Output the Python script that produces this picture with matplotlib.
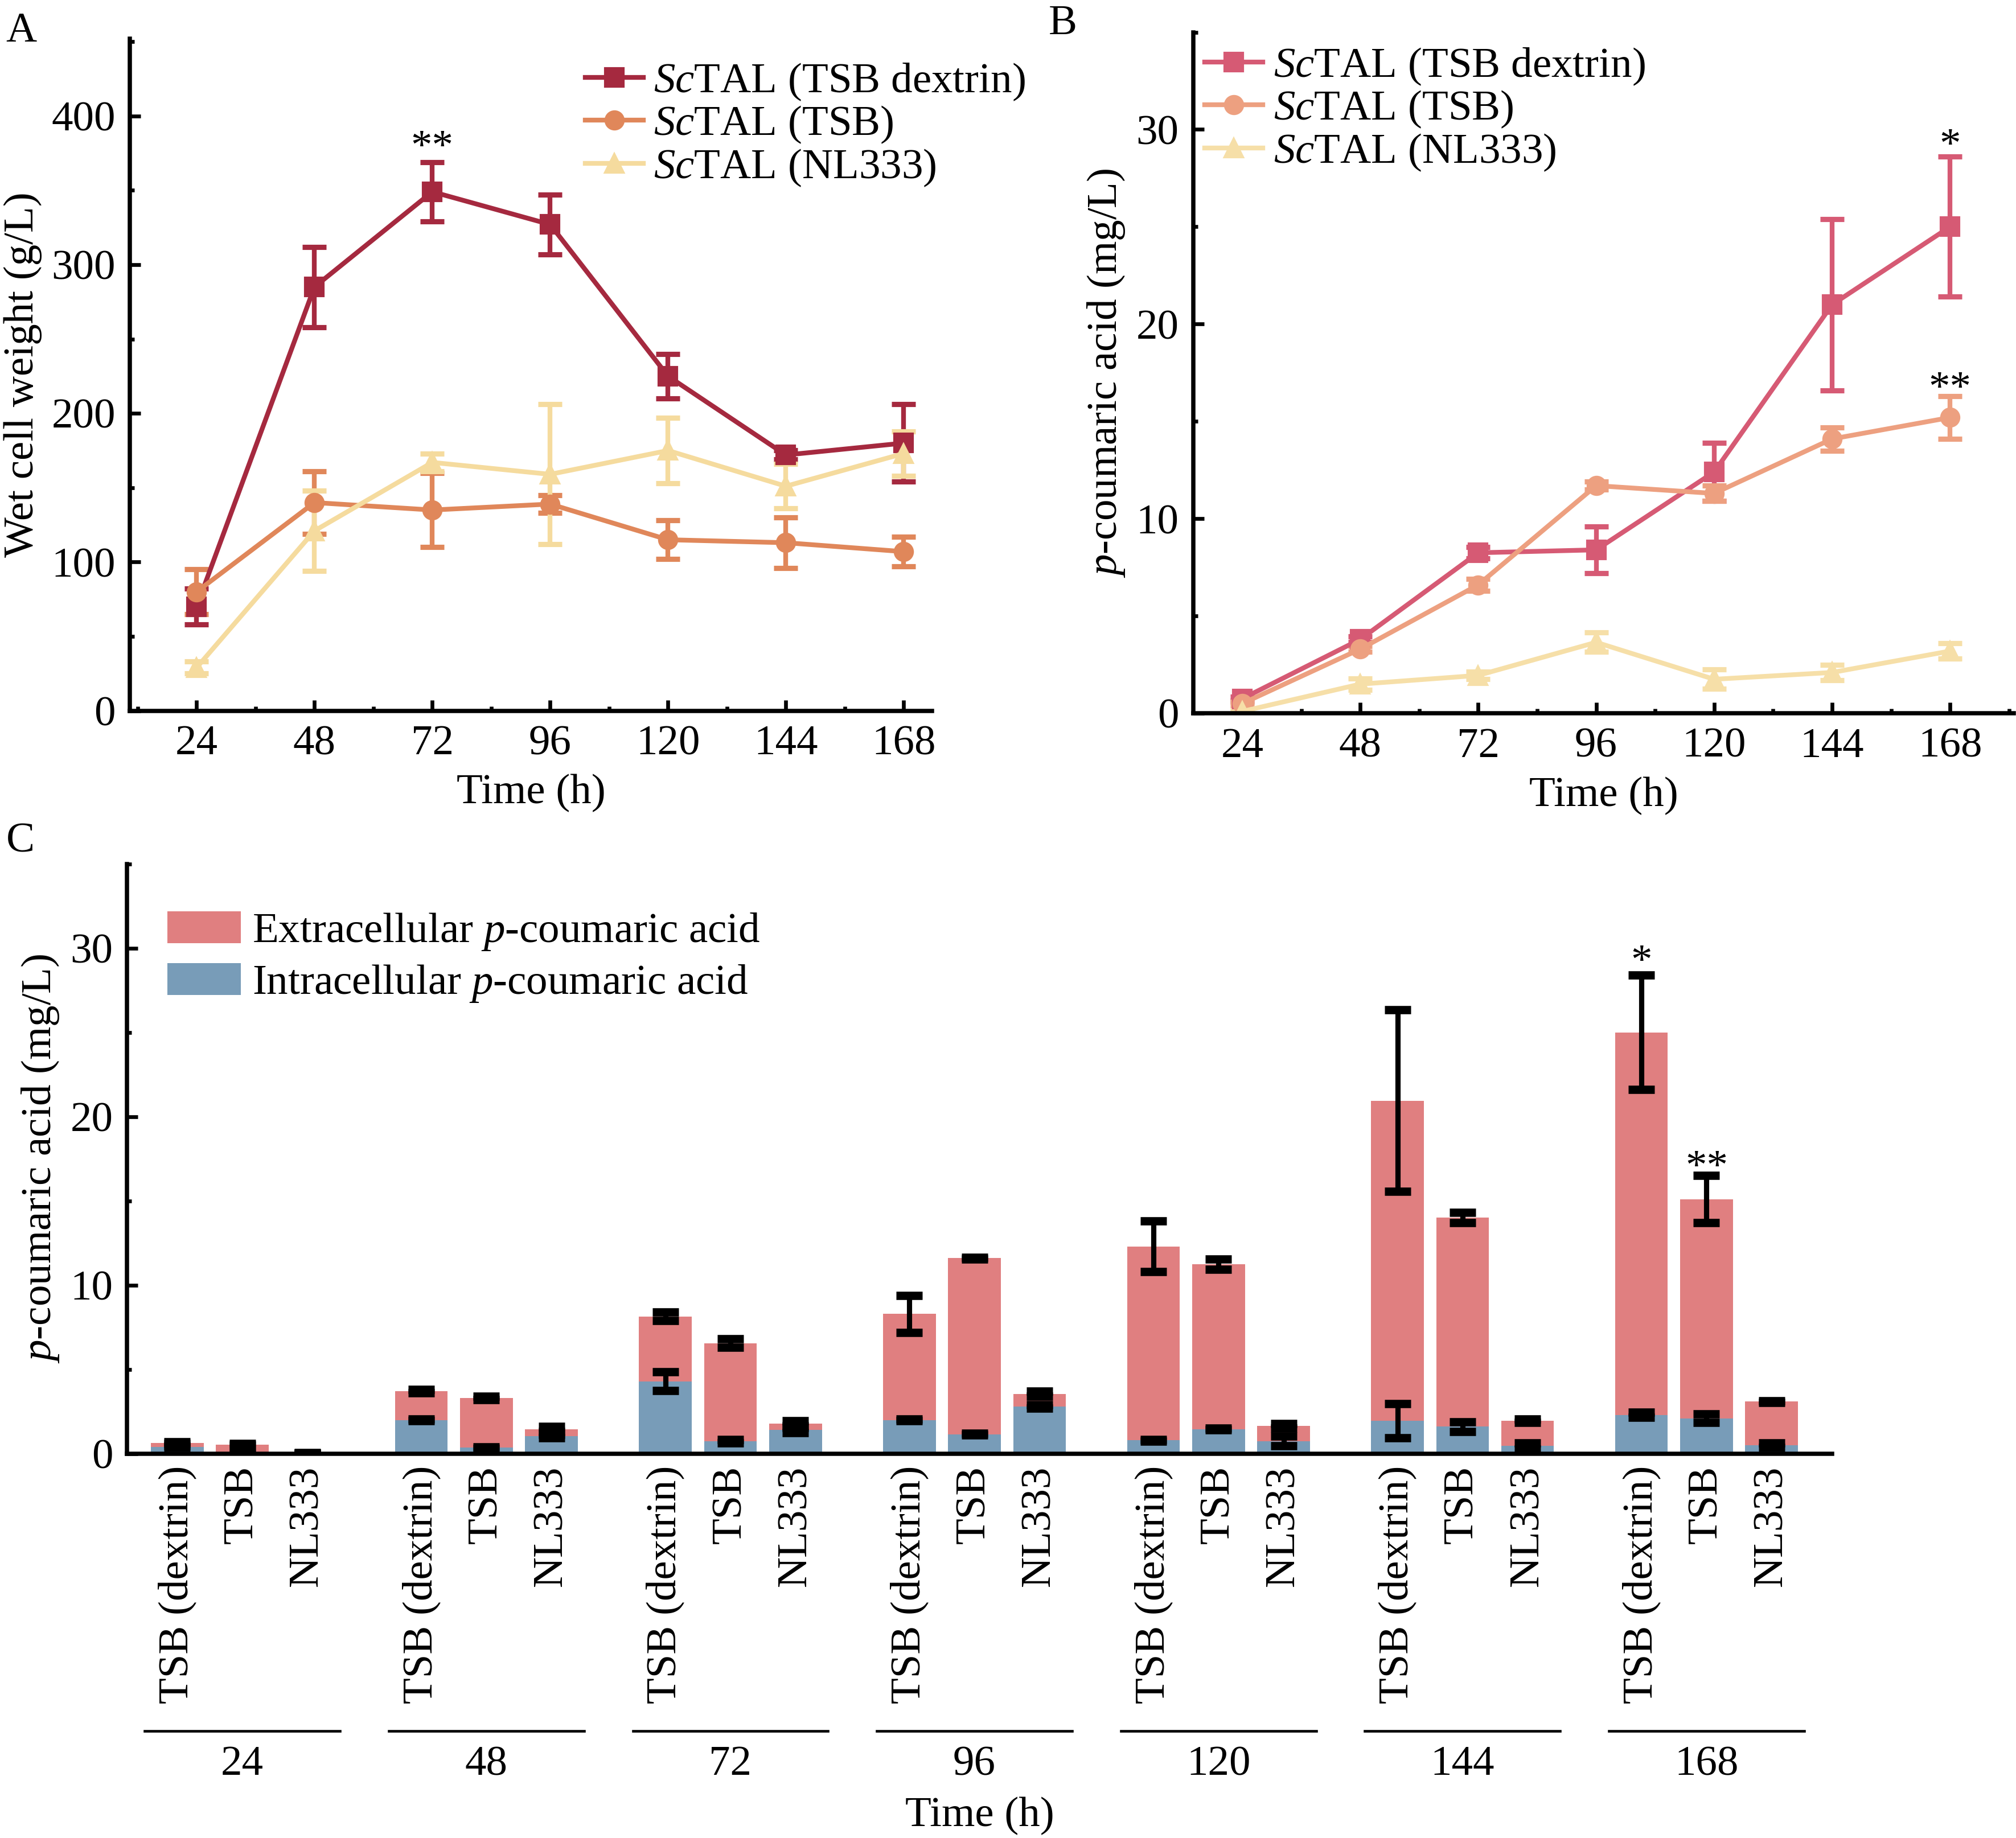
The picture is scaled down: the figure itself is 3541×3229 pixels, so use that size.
import numpy as np
import matplotlib.pyplot as plt
from matplotlib.ticker import MultipleLocator
from matplotlib.lines import Line2D

plt.rcParams['font.family'] = ['Liberation Serif', 'DejaVu Serif']
plt.rcParams['font.size'] = 18
plt.rcParams['mathtext.fontset'] = 'custom'
plt.rcParams['mathtext.rm'] = 'Liberation Serif'
plt.rcParams['mathtext.it'] = 'Liberation Serif:italic'

# ---- data ----
times = [24, 48, 72, 96, 120, 144, 168]
series = ['$\\it{Sc}$TAL (TSB dextrin)', '$\\it{Sc}$TAL (TSB)', '$\\it{Sc}$TAL (NL333)']

# panel A: wet cell weight (g/L)
wcw_dex = [70, 285, 349, 327, 225, 172, 180]
wcw_dex_err = [12, 27, 20, 20, 15, 3, 26]
wcw_tsb = [80, 140, 135, 139, 115, 113, 107]
wcw_tsb_err = [15, 21, 25, 6, 13, 17, 10]
wcw_nl = [29, 121, 167, 159, 175, 151, 173]
wcw_nl_err = [4, 27, 6, 47, 22, 15, 15]

# panel B: p-coumaric acid (mg/L)
pca_dex = [0.75, 3.8, 8.25, 8.4, 12.4, 21.0, 25.0]
pca_dex_err = [0.1, 0.15, 0.3, 1.2, 1.5, 4.4, 3.6]
pca_tsb = [0.5, 3.3, 6.6, 11.7, 11.3, 14.1, 15.2]
pca_tsb_err = [0.1, 0.15, 0.3, 0.2, 0.4, 0.6, 1.1]
pca_nl = [0.1, 1.5, 1.95, 3.65, 1.75, 2.1, 3.2]
pca_nl_err = [0.05, 0.3, 0.2, 0.5, 0.5, 0.4, 0.4]

# panel C: total and intracellular p-coumaric acid (mg/L)
media = ['TSB (dextrin)', 'TSB', 'NL333']
tot_dex = [0.65, 3.7, 8.15, 8.3, 12.3, 20.95, 25.0]
tot_dex_err = [0.05, 0.1, 0.25, 1.1, 1.5, 5.4, 3.4]
tot_tsb = [0.55, 3.3, 6.55, 11.6, 11.25, 14.0, 15.1]
tot_tsb_err = [0.05, 0.1, 0.25, 0.05, 0.3, 0.3, 1.4]
tot_nl = [0.05, 1.45, 1.8, 3.55, 1.65, 1.95, 3.1]
tot_nl_err = [0.02, 0.15, 0.15, 0.15, 0.15, 0.1, 0.05]
in_dex = [0.4, 2.0, 4.3, 2.0, 0.8, 1.95, 2.3]
in_dex_err = [0.05, 0.05, 0.57, 0.05, 0.05, 1.0, 0.15]
in_tsb = [0.05, 0.35, 0.75, 1.15, 1.45, 1.6, 2.1]
in_tsb_err = [0.05, 0.05, 0.1, 0.05, 0.05, 0.3, 0.25]
in_nl = [0.02, 1.05, 1.4, 2.8, 0.75, 0.45, 0.5]
in_nl_err = [0.02, 0.1, 0.15, 0.1, 0.3, 0.2, 0.15]

col_A = ['#A5293F', '#E0875A', '#F5DB9E']
col_B = ['#D65A74', '#EDA080', '#F6DFA8']
col_ext = '#E07F80'
col_int = '#789CB8'
markers = ['s', 'o', '^']

fig = plt.figure(figsize=(3541 / 300, 3229 / 300), dpi=300)
axA = fig.add_axes([0.0644, 0.6133, 0.398, 0.3657])
axB = fig.add_axes([0.5918, 0.6119, 0.4072, 0.3706])
axC = fig.add_axes([0.0631, 0.2091, 0.8457, 0.3209])


def style(ax):
    for s in ['top', 'right']:
        ax.spines[s].set_visible(False)
    for s in ['left', 'bottom']:
        ax.spines[s].set_linewidth(1.8)
    ax.tick_params(which='major', direction='in', length=4.6, width=1.6, pad=6)
    ax.tick_params(which='minor', direction='in', length=1.9, width=1.6)


def lines(ax, ys, errs, cols, anchor):
    for y, e, c, m in zip(ys, errs, cols, markers):
        ax.errorbar(times, y, yerr=e, color=c, marker=m, ms=7.5, lw=2,
                    elinewidth=2, capsize=5, capthick=2.2)
    ax.set_xticks(times)
    ax.xaxis.set_minor_locator(MultipleLocator(12))
    ax.set_xlabel('Time (h)', labelpad=4.5)
    handles = [Line2D([], [], color=c, marker=m, ms=7.5, lw=2)
               for c, m in zip(cols, markers)]
    ax.legend(handles, series, loc='upper left', bbox_to_anchor=anchor,
              bbox_transform=fig.transFigure, frameon=False, borderpad=0,
              borderaxespad=0, handlelength=1.36, handletextpad=0.25,
              labelspacing=0.05)


# ---- A ----
style(axA)
lines(axA, [wcw_dex, wcw_tsb, wcw_nl], [wcw_dex_err, wcw_tsb_err, wcw_nl_err],
      col_A, (455 / 1568, 1 - 48 / 1430))
axA.set_xlim(10.4, 173.8)
axA.set_ylim(0, 452)
axA.yaxis.set_major_locator(MultipleLocator(100))
axA.yaxis.set_minor_locator(MultipleLocator(50))
axA.set_ylabel('Wet cell weight (g/L)', labelpad=4)
axA.text(72, 378, '**', ha='center', va='center')

# ---- B ----
style(axB)
lines(axB, [pca_dex, pca_tsb, pca_nl], [pca_dex_err, pca_tsb_err, pca_nl_err],
      col_B, (937 / 1568, 1 - 36 / 1430))
axB.set_xlim(14, 181)
axB.set_ylim(0, 35)
axB.yaxis.set_major_locator(MultipleLocator(10))
axB.yaxis.set_minor_locator(MultipleLocator(5))
axB.set_ylabel('$\\it{p}$-coumaric acid (mg/L)', labelpad=4)
axB.text(168, 29.1, '*', ha='center', va='center')
axB.text(168, 16.6, '**', ha='center', va='center')

# ---- C ----
style(axC)
tots = [tot_dex, tot_tsb, tot_nl]
tot_errs = [tot_dex_err, tot_tsb_err, tot_nl_err]
ins = [in_dex, in_tsb, in_nl]
in_errs = [in_dex_err, in_tsb_err, in_nl_err]
gap = 3.75
xpos, xlab = [], []
for i in range(3):
    x = np.arange(len(times)) * gap + i
    tot = np.array(tots[i])
    intra = np.array(ins[i])
    axC.bar(x, intra, width=0.81, color=col_int, zorder=2,
            label='Intracellular $\\it{p}$-coumaric acid' if i == 0 else None)
    axC.bar(x, tot - intra, bottom=intra, width=0.81, color=col_ext, zorder=2,
            label='Extracellular $\\it{p}$-coumaric acid' if i == 0 else None)
    axC.errorbar(x, intra, yerr=in_errs[i], fmt='none', ecolor='k',
                 elinewidth=2.2, capsize=5.5, capthick=3.5, zorder=3)
    axC.errorbar(x, tot, yerr=tot_errs[i], fmt='none', ecolor='k',
                 elinewidth=2.2, capsize=5.5, capthick=3.5, zorder=3)
    xpos += list(x)
    xlab += [media[i]] * len(times)

axC.set_xticks(xpos)
axC.set_xticklabels(xlab, rotation=90, ha='center', va='top')
axC.tick_params(axis='x', which='both', length=0, pad=5)
axC.set_xlim(-0.77, 25.43)
axC.set_ylim(0, 35)
axC.yaxis.set_major_locator(MultipleLocator(10))
axC.yaxis.set_minor_locator(MultipleLocator(5))
axC.set_ylabel('$\\it{p}$-coumaric acid (mg/L)', labelpad=4)

trans = axC.get_xaxis_transform()
for g, t in enumerate(times):
    c = g * gap + 1
    axC.plot([c - 1.5, c + 1.5], [-0.47, -0.47], color='k', lw=1.1,
             transform=trans, clip_on=False)
    axC.text(c, -0.495, str(t), ha='center', va='top', transform=trans)
axC.text(0.5, -0.582, 'Time (h)', ha='center', va='top', transform=axC.transAxes)

axC.text(6 * gap, 29.1, '*', ha='center', va='center')
axC.text(6 * gap + 1, 16.9, '**', ha='center', va='center')

h, l = axC.get_legend_handles_labels()
axC.legend(h[::-1], l[::-1], loc='upper left',
           bbox_to_anchor=(130 / 1568, 1 - 709 / 1430),
           bbox_transform=fig.transFigure, frameon=False, borderpad=0,
           borderaxespad=0, handlelength=1.72, handleheight=0.78,
           handletextpad=0.27, labelspacing=0.25)

fig.text(0.003, 0.983, 'A', ha='left', va='center')
fig.text(0.520, 0.987, 'B', ha='left', va='center')
fig.text(0.003, 0.542, 'C', ha='left', va='center')

fig.savefig('out.png', dpi=300)
